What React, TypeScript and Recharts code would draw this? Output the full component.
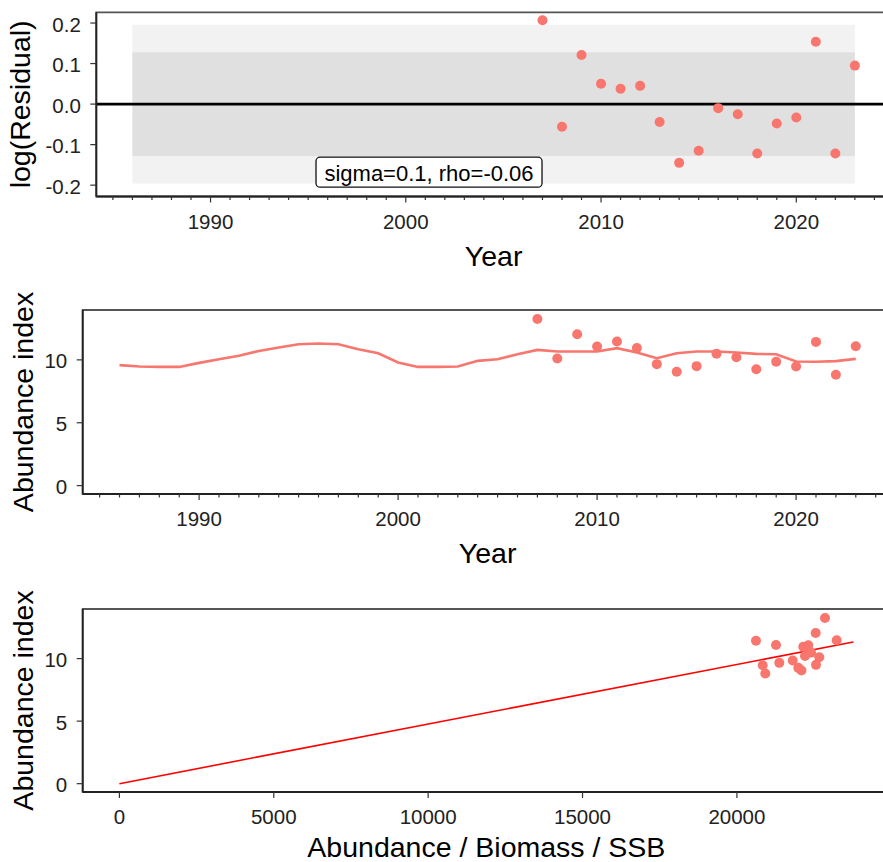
import React from 'react'
import {
  ComposedChart,
  Line,
  Scatter,
  XAxis,
  YAxis,
  ReferenceArea,
  ReferenceLine,
  ReferenceDot,
  Label,
} from 'recharts'

// model years and fitted index
const years = [
  1986, 1987, 1988, 1989, 1990, 1991, 1992, 1993, 1994, 1995, 1996, 1997, 1998,
  1999, 2000, 2001, 2002, 2003, 2004, 2005, 2006, 2007, 2008, 2009, 2010, 2011,
  2012, 2013, 2014, 2015, 2016, 2017, 2018, 2019, 2020, 2021, 2022, 2023,
]
const predicted = [
  9.58, 9.47, 9.44, 9.44, 9.76, 10.05, 10.32, 10.71, 10.98, 11.24, 11.3, 11.24,
  10.85, 10.53, 9.79, 9.44, 9.44, 9.47, 9.92, 10.05, 10.45, 10.79, 10.66, 10.66,
  10.66, 10.93, 10.58, 10.13, 10.53, 10.66, 10.66, 10.58, 10.48, 10.45, 9.87,
  9.85, 9.9, 10.08,
]

// survey years with observations
const obsYears = [
  2007, 2008, 2009, 2010, 2011, 2012, 2013, 2014, 2015, 2016, 2017, 2018, 2019,
  2020, 2021, 2022, 2023,
]
const observed = [
  13.25, 10.11, 12.04, 11.06, 11.46, 10.95, 9.66, 9.05, 9.5, 10.48, 10.21, 9.26,
  9.85, 9.47, 11.43, 8.81, 11.08,
]
const residuals = [
  0.207, -0.056, 0.121, 0.05, 0.038, 0.045, -0.044, -0.145, -0.115, -0.01,
  -0.025, -0.122, -0.048, -0.033, 0.154, -0.122, 0.095,
]
const ssb = [
  22853, 22668, 22552, 22312, 23232, 22150, 21373, 22092, 22562, 22400, 22205,
  21988, 21807, 20835, 20618, 20920, 21266,
]

// q * SSB line through the origin
const fitSsb = [0, 23770]
const fitIndex = [0, 11.33]

const sigmaBand = [-0.128, 0.128]
const outerBand = [-0.196, 0.196]
const residualTicks = [-0.2, -0.1, 0, 0.1, 0.2]
const indexTicks = [0, 5, 10]
const yearTicks = [
  1985, 1986, 1987, 1988, 1989, 1990, 1991, 1992, 1993, 1994, 1995, 1996, 1997,
  1998, 1999, 2000, 2001, 2002, 2003, 2004, 2005, 2006, 2007, 2008, 2009, 2010,
  2011, 2012, 2013, 2014, 2015, 2016, 2017, 2018, 2019, 2020, 2021, 2022, 2023,
  2024,
]
const ssbTicks = [0, 5000, 10000, 15000, 20000]
const statsLabel = 'sigma=0.1, rho=-0.06'

const FONT = '"Liberation Sans", Arial, Helvetica, sans-serif'
const PINK = '#F8766D'
const TICK_COL = '#222'
const TICK_SIZE = 20.5

const residData = obsYears.map((x, i) => ({ x, y: residuals[i] }))
const obsData = obsYears.map((x, i) => ({ x, y: observed[i] }))
const predData = years.map((x, i) => ({ x, y: predicted[i] }))
const ssbData = ssb.map((x, i) => ({ x, y: observed[i] }))
const fitData = fitSsb.map((x, i) => ({ x, y: fitIndex[i] }))

const dot = (p: any) => <circle cx={p.cx} cy={p.cy} r={5} fill={PINK} />

const yearTick = (p: any) => {
  const major = p.payload.value % 10 === 0
  return (
    <g>
      <line x1={p.x} x2={p.x} y1={p.y} y2={p.y + (major ? 6 : 3.5)} stroke="#333" strokeWidth={1.2} />
      {major && (
        <text x={p.x} y={p.y + 32} textAnchor="middle" fontSize={TICK_SIZE} fill={TICK_COL} fontFamily={FONT}>
          {p.payload.value}
        </text>
      )}
    </g>
  )
}

const plainXTick = (p: any) => (
  <g>
    <line x1={p.x} x2={p.x} y1={p.y} y2={p.y + 6} stroke="#333" strokeWidth={1.2} />
    <text x={p.x} y={p.y + 32} textAnchor="middle" fontSize={TICK_SIZE} fill={TICK_COL} fontFamily={FONT}>
      {p.payload.value}
    </text>
  </g>
)

const yTick = (digits: number) => (p: any) => (
  <g>
    <line x1={p.x - 6} x2={p.x} y1={p.y} y2={p.y} stroke="#333" strokeWidth={1.2} />
    <text x={p.x - 15.5} y={p.y + 8.5} textAnchor="end" fontSize={TICK_SIZE} fill={TICK_COL} fontFamily={FONT}>
      {digits > 0 ? Number(p.payload.value).toFixed(digits) : p.payload.value}
    </text>
  </g>
)

const xTitle = (text: string, dy: number) => (p: any) => {
  const vb = p.viewBox
  return (
    <text x={vb.x + vb.width / 2} y={vb.y + dy} textAnchor="middle" fontSize={28.5} fill="#000" fontFamily={FONT}>
      {text}
    </text>
  )
}

const yTitle = (text: string, bx: number) => (p: any) => {
  const vb = p.viewBox
  const cy = vb.y + vb.height / 2
  return (
    <text x={bx} y={cy} transform={`rotate(-90 ${bx} ${cy})`} textAnchor="middle" fontSize={28.5} fill="#000" fontFamily={FONT}>
      {text}
    </text>
  )
}

const statsBox = (p: any) => (
  <g>
    <rect x={p.cx - 113} y={p.cy - 15} width={226} height={30} rx={4} fill="#fff" stroke="#111" strokeWidth={1.3} />
    <text x={p.cx} y={p.cy + 8.5} textAnchor="middle" fontSize={22} fill="#000" fontFamily={FONT}>
      {statsLabel}
    </text>
  </g>
)

const axisLine = { stroke: '#222', strokeWidth: 1.8 }
const frame = { fill: 'none', stroke: '#555', strokeWidth: 1.8, fillOpacity: 0 }

const yearDomain = [1984.15, 2024.85]
const residDomain = [-0.228, 0.2265]
const indexDomain = [-0.665, 13.965]
const ssbDomain = [-1188.5, 24958.5]

export default function App() {
  return (
    <div style={{ position: 'absolute', left: 0, top: 0, width: 883, height: 862, overflow: 'hidden', background: '#fff' }}>
      {/* residuals */}
      <div style={{ position: 'absolute', left: 0, top: 0 }}>
        <ComposedChart width={900} height={280} margin={{ top: 12.3, right: 9, bottom: 0, left: 0 }}>
          <XAxis
            type="number"
            dataKey="x"
            domain={yearDomain}
            allowDataOverflow
            ticks={yearTicks}
            interval={0}
            tick={yearTick}
            tickLine={false}
            tickSize={0}
            tickMargin={0}
            axisLine={axisLine}
            height={83.5}
          >
            <Label content={xTitle('Year', 69)} />
          </XAxis>
          <YAxis
            type="number"
            dataKey="y"
            domain={residDomain}
            allowDataOverflow
            ticks={residualTicks}
            interval={0}
            tick={yTick(1)}
            tickLine={false}
            tickSize={0}
            tickMargin={0}
            axisLine={axisLine}
            width={96.3}
          >
            <Label content={yTitle('log(Residual)', 30.5)} />
          </YAxis>
          <ReferenceArea x1={yearDomain[0]} x2={yearDomain[1]} y1={residDomain[0]} y2={residDomain[1]} {...frame} />
          <ReferenceArea x1={1986} x2={2023} y1={outerBand[0]} y2={outerBand[1]} fill="#F2F2F2" fillOpacity={1} stroke="none" />
          <ReferenceArea x1={1986} x2={2023} y1={sigmaBand[0]} y2={sigmaBand[1]} fill="#E0E0E0" fillOpacity={1} stroke="none" />
          <ReferenceLine y={0} stroke="#000" strokeWidth={2.8} />
          <ReferenceDot x={2001.19} y={-0.168} r={0} shape={statsBox} />
          <Scatter data={residData} dataKey="y" shape={dot} isAnimationActive={false} />
        </ComposedChart>
      </div>

      {/* index vs year */}
      <div style={{ position: 'absolute', left: 0, top: 280 }}>
        <ComposedChart width={900} height={290} margin={{ top: 30, right: 7.4, bottom: 0, left: 0 }}>
          <XAxis
            type="number"
            dataKey="x"
            domain={yearDomain}
            allowDataOverflow
            ticks={yearTicks}
            interval={0}
            tick={yearTick}
            tickLine={false}
            tickSize={0}
            tickMargin={0}
            axisLine={axisLine}
            height={76}
          >
            <Label content={xTitle('Year', 69)} />
          </XAxis>
          <YAxis
            type="number"
            dataKey="y"
            domain={indexDomain}
            allowDataOverflow
            ticks={indexTicks}
            interval={0}
            tick={yTick(0)}
            tickLine={false}
            tickSize={0}
            tickMargin={0}
            axisLine={axisLine}
            width={82.7}
          >
            <Label content={yTitle('Abundance index', 33.3)} />
          </YAxis>
          <ReferenceArea x1={yearDomain[0]} x2={yearDomain[1]} y1={indexDomain[0]} y2={indexDomain[1]} {...frame} />
          <Line data={predData} dataKey="y" type="linear" stroke={PINK} strokeWidth={2.6} dot={false} isAnimationActive={false} />
          <Scatter data={obsData} dataKey="y" shape={dot} isAnimationActive={false} />
        </ComposedChart>
      </div>

      {/* index vs biomass */}
      <div style={{ position: 'absolute', left: 0, top: 580 }}>
        <ComposedChart width={900} height={282} margin={{ top: 29, right: 10, bottom: 0, left: 0 }}>
          <XAxis
            type="number"
            dataKey="x"
            domain={ssbDomain}
            allowDataOverflow
            ticks={ssbTicks}
            interval={0}
            tick={plainXTick}
            tickLine={false}
            tickSize={0}
            tickMargin={0}
            axisLine={axisLine}
            height={70}
          >
            <Label content={xTitle('Abundance / Biomass / SSB', 65)} />
          </XAxis>
          <YAxis
            type="number"
            dataKey="y"
            domain={indexDomain}
            allowDataOverflow
            ticks={indexTicks}
            interval={0}
            tick={yTick(0)}
            tickLine={false}
            tickSize={0}
            tickMargin={0}
            axisLine={axisLine}
            width={82.7}
          >
            <Label content={yTitle('Abundance index', 33.3)} />
          </YAxis>
          <ReferenceArea x1={ssbDomain[0]} x2={ssbDomain[1]} y1={indexDomain[0]} y2={indexDomain[1]} {...frame} />
          <Line data={fitData} dataKey="y" type="linear" stroke="#FF0000" strokeWidth={1.6} dot={false} isAnimationActive={false} />
          <Scatter data={ssbData} dataKey="y" shape={dot} isAnimationActive={false} />
        </ComposedChart>
      </div>
    </div>
  )
}
